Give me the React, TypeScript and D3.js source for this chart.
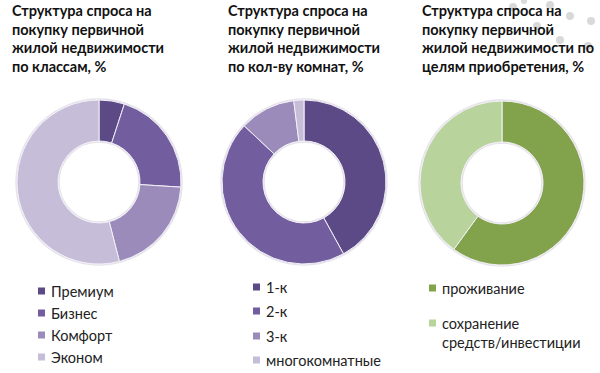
import * as d3 from 'd3';

// Chart data
const classLabels = [['Премиум'], ['Бизнес'], ['Комфорт'], ['Эконом']];
const classValues = [5, 21, 20, 54];
const roomLabels = [['1-к'], ['2-к'], ['3-к'], ['многокомнатные']];
const roomValues = [42, 45, 11, 2];
const purposeLabels = [['проживание'], ['сохранение', 'средств/инвестиции']];
const purposeValues = [60, 40];

const classTitle = ['Структура спроса на', 'покупку первичной', 'жилой недвижимости', 'по классам, %'];
const roomTitle = ['Структура спроса на', 'покупку первичной', 'жилой недвижимости', 'по кол-ву комнат, %'];
const purposeTitle = ['Структура спроса на', 'покупку первичной', 'жилой недвижимости по', 'целям приобретения, %'];

const PURPLES = ['#5c4a86', '#725d9f', '#9b8bbb', '#c6bdd8'];
const GREENS = ['#82a34b', '#b8d39b'];

const FONT = 'Lato, "Open Sans", sans-serif';

type PanelProps = {
  title: string[];
  labels: string[][];
  values: number[];
  colors: string[];
  cx: number;
  cy: number;
  titleX: number;
  legendX: number;
  legendY: number[];
};

const OUTER = 82;
const INNER = 41;

const Panel = ({ title, labels, values, colors, cx, cy, titleX, legendX, legendY }: PanelProps) => {
  const pie = d3.pie<number>().sort(null).value((d) => d);
  const arcs = pie(values);
  const arc = d3.arc<d3.PieArcDatum<number>>().innerRadius(INNER).outerRadius(OUTER);

  return (
    <g>
      <text x={titleX} y={16} fontFamily={FONT} fontWeight={700} fontSize={14.5} fill="#111">
        {title.map((line, i) => (
          <tspan key={i} x={titleX} dy={i === 0 ? 0 : 18.7}>
            {line}
          </tspan>
        ))}
      </text>

      {/* faint shadow ring */}
      <circle cx={cx} cy={cy} r={OUTER + 1} fill="none" stroke="#e6e3ea" strokeWidth={1.5} />
      <circle cx={cx} cy={cy} r={INNER - 1} fill="none" stroke="#e6e3ea" strokeWidth={1.5} />

      <g transform={`translate(${cx},${cy})`}>
        {arcs.map((a, i) => (
          <path key={i} d={arc(a) ?? ''} fill={colors[i]} stroke="#f2eff7" strokeWidth={1} />
        ))}
      </g>

      {labels.map((lines, i) => (
        <g key={i}>
          <rect x={legendX} y={legendY[i] - 3.5} width={7} height={7} fill={colors[i]} />
          <text fontFamily={FONT} fontSize={14.5} fill="#222" dominantBaseline="central">
            {lines.map((line, j) => (
              <tspan key={j} x={legendX + 13} y={legendY[i] + j * 19}>
                {line}
              </tspan>
            ))}
          </text>
        </g>
      ))}
    </g>
  );
};

// decorative dots in the upper right corner
const dots = [
  [513, 7, 4],
  [550, 5, 4],
  [537, 26, 4],
  [570, 16, 4],
  [591, 21, 4],
  [560, 40, 4],
  [588, 46, 4],
  [524, 1, 3],
];

export default function App() {
  return (
    <svg
      width={600}
      height={373}
      style={{ position: 'absolute', left: 0, top: 0, background: '#fff' }}
    >
      {dots.map(([x, y, r], i) => (
        <circle key={i} cx={x} cy={y} r={r} fill="#d9d9d9" />
      ))}
      <Panel
        title={classTitle}
        labels={classLabels}
        values={classValues}
        colors={PURPLES}
        cx={99}
        cy={182}
        titleX={12}
        legendX={38}
        legendY={[291, 313, 335, 357]}
      />
      <Panel
        title={roomTitle}
        labels={roomLabels}
        values={roomValues}
        colors={PURPLES}
        cx={304}
        cy={182}
        titleX={228}
        legendX={253}
        legendY={[287, 311, 336, 360]}
      />
      <Panel
        title={purposeTitle}
        labels={purposeLabels}
        values={purposeValues}
        colors={GREENS}
        cx={502}
        cy={183}
        titleX={422}
        legendX={429}
        legendY={[288, 323]}
      />
    </svg>
  );
}
